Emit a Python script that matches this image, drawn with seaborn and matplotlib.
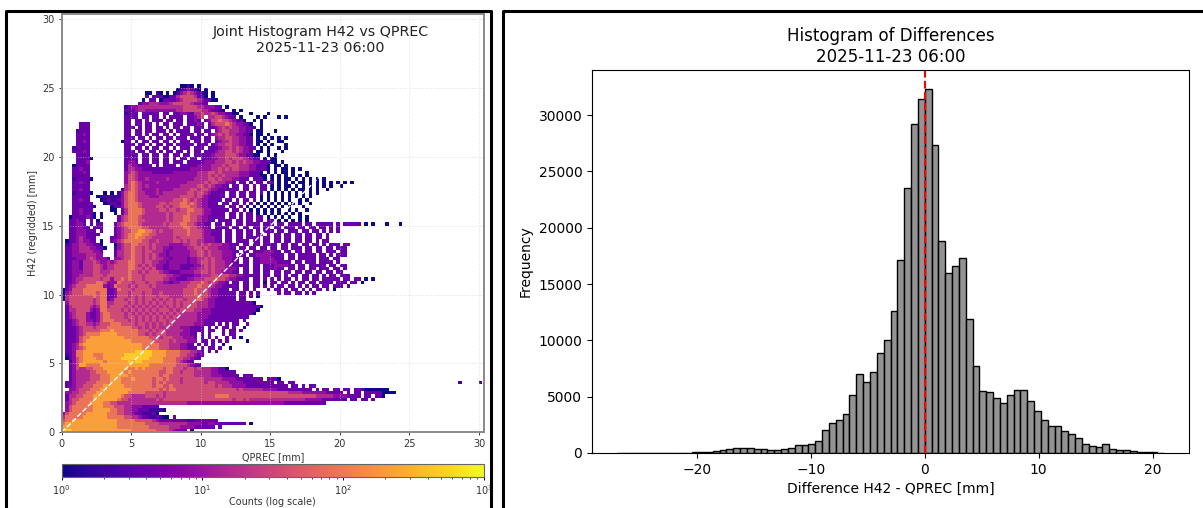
import numpy as np
import pandas as pd
import matplotlib
matplotlib.use('Agg')
import matplotlib.pyplot as plt
from matplotlib.colors import LogNorm
from matplotlib.lines import Line2D
import seaborn as sns

W, H = 1203, 508

# Joint histogram on a 0.25 mm grid. One string per H42 row,
# top row (25 mm) first, one character per QPREC cell. '.' is an empty cell.
count_codes = {'1': 1, '2': 2, '3': 4, '4': 8, '5': 16, '6': 35, '7': 90, '8': 215, '9': 460}
heat_rows = [
    # 25 mm
    "..................................1121.1",
    ".................................1234321.1",
    "........................11.21.1.1245654321.1",
    "........................3.3331133566665331.1",
    ".......................1.33.13333456666543311",
    "......................34455544456666654433",
    "..................2344555555555555566665544433.1",
    "..................33345544444444455666665543321..1.1",
    "..................2333.33333.33.3344335565565443311...1....1",
    "..................3333.33.33.3.3333.33456.55665433.1....1.1...1.1",
    "..................33.33.3.333.33.33.3343.346676654331..1.1",
    ".....333..........33.33.33.3.33.333.33343.3566676544331..1",
    # 22 mm
    ".....333..........333.3.33.33.3.33.33.333.33456565544332.1",
    "....2333..........33.33.33.333.3.3333.33.33.45665554433.11...1",
    "....3343..........33.33.3.33.33.3.3333.33.3456565544331.11.1",
    "....3333..........333.33.3.33.33.333.333.33.45566554433.1.1.1.1.1",
    # 21 mm
    "....3343.........133.3.33.33.33.3.333.33.33.34556554433.11.1..11",
    "....3333..........333.33.3.33.33.33333.333.345566554433.1.1.1...1",
    "...23333..........33.33.3.33.33.3.333.333.33345565654433.1.1..1.1",
    "...33343..........333.33.33.3.33.33.3.33.33345566565443.11.1...1",
    # 20 mm
    "....3333..........3333.33.33.33.33.33.3333345556665443311..1.1",
    "....33331.........3333.33.33.33.3.33.33.33344556566655433.1.11",
    "....3334..........3443.33.33.33.333.33333444555665656554433311.1",
    "...13333..........35443333.3.3333.33333444455565666555443331.11.1",
    # 19 mm
    "...33433..........355443333333333333344444455656566555443331.1.11.1.1",
    "...33343..........4565444433333344444445556656555554443331.1.1.11.1...1",
    "...33333..........46654444444444444444455565656555544433311.1.1.1.1.1.1",
    "...233331.........466544544444544444445555665655544333.3331.1.1.11.1.1.1.1.1",
    # 18 mm
    "...33433..........46765444454444444455555656655443.33.3.33.33.1.1.1.11.1.1.1.1.1.1.1",
    "...33333..........567654544444444455555665654433.33.33.3.33.1.1.11.1.1.1.1.1.1..1",
    "...33433.........2567654444544445555566566544333333.33.3.33.1.1.1.1.11.1.1..1",
    "...233331...1.1.2467765544454555555566566543333.33.33.33.3.1.1.1.1.1.1.1.1",
    # 17 mm
    "...33333..1222222467765554445555556666565433333.33.33.33.1.1.1.1.1.1.1.1",
    "...33433...12322346776555555555566676565443333.33.3.33.3.1.1.1.1.1..1.1",
    "...333333...123324677765555566566677676544333.33.33.3.3.1.1.1.1.1.1.1..1",
    "...3333331....133467776555566565667776654433333.33.3.1.1.1.1.1.1.1...1",
    # 16 mm
    "...334333.....11.3577776555566566566776654433333.33.3.1.1.1.1.1..1.1..1",
    "...3343331.1...1.357777655555565666676665443333.33.3.33.1.1.1.1.1.1.1",
    "..13333431.1....3567776555555565666776654433333.33.3.33.33.1.1.1.1..1.1",
    "..33433.3.1.....3567776655555565666776654433.3333.33.33.33.33.1.1.1.1.1",
    # 15 mm
    "..33443.3.33...3567777655555565666776654433.33.33.33.3333.333.33.3333.33.33333.3.33333.1.1...1...1",
    "..334433.333...3456777766555555666677665443.3333.33.33.33.33.33.333.33.33.33.3.3",
    "..33444333.3...3456677887765655566667666544333.33.33.33.3.333.33.333.33.33.3.3.3",
    "..334443333....3456778877665555566667666544333.33.33.33.33.3.33.33.33.33.33.3",
    # 14 mm
    "..33454333....33456778776655555565666666544433.33.33.3333.33.33.33.33.33.33.3",
    ".133454433 1..34567777766556555566565665544433.33.3333.33.33.33.33.33.33.3.33".replace(" ", "."),
    ".23445544331...145667766656555544445566565655544333.33.33.3333.33.33.33.33.3.333.33",
    ".334455544331..24566766565655443444455665655544433.33.33.33.33.33.333.33.33.33.333",
    # 13 mm
    ".33445555443...355667665665554344444455665655544433.33.33344433.33.33.33.33.333.33",
    ".33444455544...35566766565654434444445566565554443.33.3344443333.33.33333.33.3.333",
    ".3334445654443.445667665656554434444344556565544433.33.334444333.33.33333.333.33",
    ".33443555654454566677665665544344444344566565554433.33.33444443333.33.333.3333.3",
    # 12 mm
    ".33443555665455666677656565443344433334456565554433333.33.333444433.33.33333.33.33",
    ".33443555665455666677665656443344433344556565554443.33.33.333433.33.33.33.333.33.3",
    ".33444555665556666676656566654433344445566565544433.33.33.33.33.33.33.33.33.33.33",
    ".33445555666566666676665666666554433334455566566554433333.33.33.3.33.33.33.3.33.333",
    # 11 mm
    ".33455666665664667676665666665544333445556667665443333.33.3.3.3.33.3.33.33.33333.33.33.1.1",
    ".33456666677644476665666566554434455566676565443.33.33.33.1.33.33.3.33.33.3333.333.33.1",
    ".34566677777434766656566656555555555666766654433333.33.33.3.3.33.33.3.3.33.33.333.3",
    "134666777777733476665666665555555556667666544333.33.33.3...3.33.3.33.3.3.33.3.1",
    # 10 mm
    "14566677776773346665666566556555555666766654433333.33.3.3.....3.33.33.3.3",
    "15666666676773346665656566656665555666676654433333.33.3.1",
    "15666666656773466656656566565656566566676544333333.33",
    ".4666666656775566665656565656566565666655544333333333331",
    # 9 mm
    ".356666654577566665656565656565656566665554433333333333331",
    ".35566664347766665656565656566656566665544433333333333331",
    ".3456664334677666656565656565656565555544443333333333331",
    ".34566643346776666566565656565656555555444333333333333",
    # 8 mm
    ".33456644346777666656565656566565555555443333333333.3",
    ".3345665545666777666656656565656555555444333.3.3.33..3",
    ".3334566656667777777665656565565554443333.3.3.33.3..1",
    ".3334566666777877777776665656655555443333.33..3.33.3",
    # 7 mm
    ".33345677778888877777766565666555544433.3.3...3.33",
    ".33346778888888888777777766656665554443.3.3.3..3.3.1",
    ".33346788888888888887777776666656555444.33.3.3.3.....1",
    ".3345788888888888888888777776665554433.3.3.3..1",
    # 6 mm
    ".33456788888888888888887777766655544333.3.33.3..1",
    ".3347788888888888888899999888877776665543.3.3",
    ".23477888777888888999999998888777766554 33".replace(" ", ""),
    ".134678888778888899999999888877776655433",
    # 5 mm
    "..246788888878888889899888888777765433",
    "..34688777788888888888888777777776665433",
    "..3465566777888888877878777776776665665655544331",
    "..345555667778888878777777776677665666555554433333",
    # 4 mm
    "..3455556667778888877777777767766666665555544433333.333",
    "..34555566677788877787777767767666566666655555444433333333.3331",
    ".334555666777788877777777767676666566666656655554444333333333.33.33" + "." * 47 + "2.....2",
    ".3345566677788888877777777677667666666666666565554444333333333333.33.3.33",
    # 3 mm
    "..4456667778888888887777777767677666666666666666665655555544443333333333.3.33.33.33.3331111111",
    ".44556677788888888877777666665666666666666666666666666666666666665555444444433333.3.33.333331111",
    ".3556677788888888766555566656566666666666666777766666666666666666666666665555544443333.33.331",
    ".356677778888888766555555556566666666666666666666566565555555555555555444443333333.33.33.3",
    # 2 mm
    ".456777788887766555555555555555555554444444444444444444444444444333333333333",
    ".467777778887776665544433333",
    ".46777777888887766554433322221",
    "46777778888887776655433 22231".replace(" ", ""),
    # 1 mm
    "57777788888887777766554332232 11.3".replace(" ", ""),
    "677888888888888877777666665433333333223333333",
    "78888888888888887777777766665555555544443344333333333.1",
    "88888888888888887777777776666665554444333333.3",
    # 0 mm
    "99988888888888888888777777766665433" + "3.1",
]
cell_mm = 0.25
axis_max = 30.34
joint_ticks = [0, 5, 10, 15, 20, 25, 30]

# Histogram of differences, one count per 0.6 mm bin from -27 to 21
diff_counts = [
    4, 6, 6, 8, 8, 10, 12, 14, 18, 25,
    40, 50, 90, 120, 150, 265, 385, 440, 470, 415,
    355, 355, 265, 240, 355, 415, 680, 740, 770, 1095,
    2040, 2630, 2900, 3460, 5180, 7010, 6300, 7220, 8880, 10000,
    12575, 17100, 23520, 29170, 31420,
    32340, 27300, 18810, 15950, 16570, 17300, 11900, 7750, 5500, 5415,
    4850, 4470, 5180, 5560, 5620, 4620, 3760, 2930, 2430, 2400,
    1950, 1690, 1300, 830, 590, 560, 800, 385, 300, 270,
    180, 90, 60, 50, 30,
]
diff_start = -27
diff_end = 21
title_time = '2025-11-23 06:00'


def px_axes(left, top, right, bottom):
    return fig.add_axes([left / W, 1 - bottom / H, (right - left) / W, (bottom - top) / H])


fig = plt.figure(figsize=(W / 100, H / 100), dpi=100)

# Left panel: joint histogram
ax1 = px_axes(61.7, 14.3, 483.7, 432.3)
cax = px_axes(61.7, 464, 483.7, 477)

n_cols = int(np.ceil(axis_max / cell_mm))
heat = np.array([[count_codes.get(c, np.nan) for c in row.ljust(n_cols, '.')[:n_cols]]
                 for row in heat_rows[::-1]], dtype=float)
heat_df = pd.DataFrame(heat)

sns.heatmap(heat_df, ax=ax1, cmap='plasma', norm=LogNorm(vmin=1, vmax=1000),
            cbar_ax=cax, cbar_kws={'orientation': 'horizontal'},
            xticklabels=False, yticklabels=False)

ax1.set_xlim(0, axis_max / cell_mm)
ax1.set_ylim(0, axis_max / cell_mm)
tick_pos = [t / cell_mm for t in joint_ticks]
ax1.set_xticks(tick_pos)
ax1.set_xticklabels(joint_ticks, rotation=0)
ax1.set_yticks(tick_pos)
ax1.set_yticklabels(joint_ticks, rotation=0)
ax1.tick_params(axis='both', length=2.5, width=0.7, labelsize=7, color='#444444',
                labelcolor='#333333', pad=2.5)
ax1.grid(True, linestyle=':', linewidth=0.7, color='#cccccc', alpha=0.6)
for s in ax1.spines.values():
    s.set_visible(True)
    s.set_color('#8a8a8a')
    s.set_linewidth(1.4)

# 1:1 line
ax1.plot([0, axis_max / cell_mm], [0, axis_max / cell_mm], color='white',
         linestyle='--', linewidth=1)

ax1.set_xlabel('QPREC [mm]', fontsize=6.9, color='#333333', labelpad=2)
ax1.set_ylabel('H42 (regridded) [mm]', fontsize=6.9, color='#333333', labelpad=3)

cbar = ax1.collections[0].colorbar
cbar.set_label('Counts (log scale)', fontsize=6.9, color='#333333', labelpad=0)
cbar.ax.tick_params(which='major', length=2.5, width=0.7, labelsize=7, labelcolor='#333333', pad=2)
cbar.ax.tick_params(which='minor', length=1.5, width=0.5)
cbar.outline.set_edgecolor('#666666')
cbar.outline.set_linewidth(0.8)

fig.text(320.5 / W, 1 - 40 / H, 'Joint Histogram H42 vs QPREC\n' + title_time,
         ha='center', va='center', fontsize=10.3, color='#222222')

# Right panel: histogram of differences
ax2 = px_axes(592, 70, 1189, 453)
bin_width = (diff_end - diff_start) / len(diff_counts)
diff_df = pd.DataFrame({
    'diff': [diff_start + (i + 0.5) * bin_width for i in range(len(diff_counts))],
    'count': diff_counts,
})
sns.histplot(data=diff_df, x='diff', weights='count', bins=len(diff_counts),
             binrange=(diff_start, diff_end), color='gray', edgecolor='black',
             alpha=0.85, linewidth=1, ax=ax2)
ax2.axvline(0, color='red', linestyle='--', linewidth=1.5)
ax2.set_xlim(-29.2, 23.2)
ax2.set_ylim(0, 34000)
ax2.set_xticks([-20, -10, 0, 10, 20])
ax2.set_yticks(np.arange(0, 30001, 5000))
ax2.set_xlabel('Difference H42 - QPREC [mm]', fontsize=10)
ax2.set_ylabel('Frequency', fontsize=10)
ax2.set_title('Histogram of Differences\n' + title_time, fontsize=12, pad=6)

# Black panel frames, open at the bottom of the screenshot
frame = dict(color='black', linewidth=2.2, transform=fig.transFigure, solid_capstyle='butt')
for xs, ys in [
    ([6, 6, 490.7, 490.7], [508, 10.7, 10.7, 508]),
    ([503.3, 503.3, 1203], [508, 10.7, 10.7]),
]:
    fig.add_artist(Line2D([x / W for x in xs], [1 - y / H for y in ys], **frame))

fig.savefig('out.png', dpi=100)
